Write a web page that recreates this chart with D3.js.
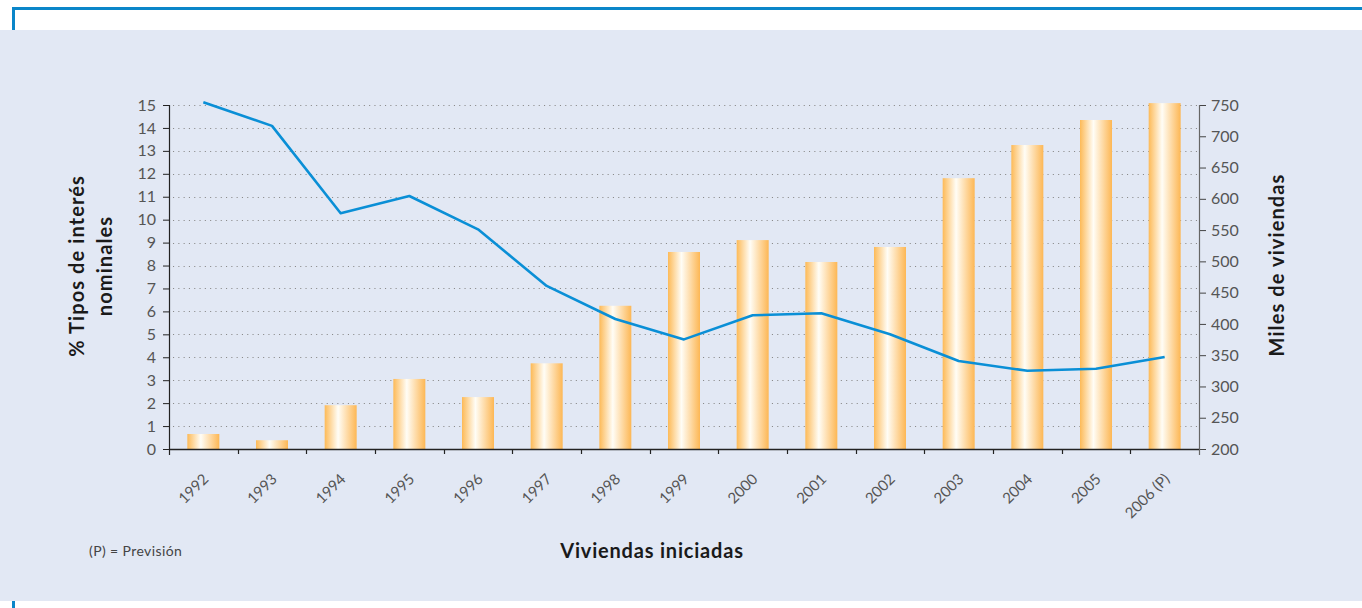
<!DOCTYPE html>
<html>
<head>
<meta charset="utf-8">
<script src="https://cdn.jsdelivr.net/npm/d3@7/dist/d3.min.js"></script>
<style>
  html, body { margin: 0; padding: 0; background: #ffffff; }
  svg { display: block; }
  text { font-family: Lato, "Open Sans", sans-serif; }
</style>
</head>
<body>
<svg id="chart" width="1362" height="608"></svg>
<script>
// ---- data ----
const years = ["1992","1993","1994","1995","1996","1997","1998","1999","2000","2001","2002","2003","2004","2005","2006 (P)"];
const viviendas = [224, 214, 270, 312, 283, 337, 429, 515, 534, 499, 523, 633, 686, 726, 753];
const tipos = [15.12, 14.09, 10.28, 11.03, 9.58, 7.11, 5.67, 4.78, 5.83, 5.92, 5.0, 3.84, 3.41, 3.50, 4.01];
const leftTicks = [0,1,2,3,4,5,6,7,8,9,10,11,12,13,14,15];
const rightTicks = [200,250,300,350,400,450,500,550,600,650,700,750];
const leftTitle = ["% Tipos de interés", "nominales"];
const rightTitle = "Miles de viviendas";
const xTitle = "Viviendas iniciadas";
const footnote = "(P) = Previsión";

// ---- layout ----
const W = 1362, H = 608;
const X0 = 169, X1 = 1199, Y0 = 449, Y1 = 105;

const svg = d3.select("#chart");

// frame
svg.append("rect").attr("x", 0).attr("y", 30).attr("width", W).attr("height", 571).attr("fill", "#E2E8F4");
svg.append("line").attr("x1", 12).attr("x2", W).attr("y1", 8.5).attr("y2", 8.5)
   .attr("stroke", "#0A86C9").attr("stroke-width", 3);
svg.append("line").attr("x1", 13.5).attr("x2", 13.5).attr("y1", 7).attr("y2", 30)
   .attr("stroke", "#0A86C9").attr("stroke-width", 3);
svg.append("line").attr("x1", 13.5).attr("x2", 13.5).attr("y1", 601).attr("y2", H)
   .attr("stroke", "#0A86C9").attr("stroke-width", 3);

// gradient
const defs = svg.append("defs");
const grad = defs.append("linearGradient").attr("id", "barGrad").attr("x1", "0%").attr("x2", "100%").attr("y1", "0%").attr("y2", "0%");
grad.append("stop").attr("offset", "0%").attr("stop-color", "#FDBA57");
grad.append("stop").attr("offset", "42%").attr("stop-color", "#FFFDF6");
grad.append("stop").attr("offset", "100%").attr("stop-color", "#FDB754");

// scales
const pi = 0.534;
const x = d3.scaleBand().domain(years).range([X0, X1]).paddingInner(pi).paddingOuter(pi / 2);
const xb = d3.scaleBand().domain(years).range([X0, X1]).padding(0);
const yL = d3.scaleLinear().domain([0, 15]).range([Y0, Y1]);
const yR = d3.scaleLinear().domain([200, 750]).range([Y0, Y1]);

// gridlines
svg.append("g").selectAll("line").data(leftTicks.filter(d => d > 0)).join("line")
  .attr("x1", X0 + 4).attr("x2", X1)
  .attr("y1", d => Math.round(yL(d)) + 0.5).attr("y2", d => Math.round(yL(d)) + 0.5)
  .attr("stroke", "#8a8a8a").attr("stroke-width", 1.1).attr("stroke-dasharray", "1.1,4.2");

// bars
svg.append("g").selectAll("rect").data(years).join("rect")
  .attr("x", d => x(d))
  .attr("width", x.bandwidth())
  .attr("y", (d, i) => yR(viviendas[i]))
  .attr("height", (d, i) => Y0 - yR(viviendas[i]))
  .attr("fill", "url(#barGrad)");

// left axis
const gL = svg.append("g").attr("transform", `translate(${X0},0)`)
  .call(d3.axisLeft(yL).tickValues(leftTicks).tickSize(6).tickSizeOuter(0).tickPadding(7));
gL.select(".domain").remove();
gL.selectAll(".tick line").attr("stroke", "#222");
gL.selectAll(".tick text").attr("fill", "#555").attr("font-size", 16).attr("font-family", "Lato");
svg.append("line").attr("x1", X0 + 0.5).attr("x2", X0 + 0.5).attr("y1", Y1).attr("y2", Y0 + 6)
  .attr("stroke", "#222").attr("stroke-width", 1.2);

// right axis
const gR = svg.append("g").attr("transform", `translate(${X1},0)`)
  .call(d3.axisRight(yR).tickValues(rightTicks).tickSize(7).tickSizeOuter(0).tickPadding(5));
gR.select(".domain").remove();
gR.selectAll(".tick line").attr("stroke", "#444");
gR.selectAll(".tick text").attr("fill", "#555").attr("font-size", 16).attr("font-family", "Lato");
svg.append("line").attr("x1", X1 + 0.5).attr("x2", X1 + 0.5).attr("y1", Y1).attr("y2", Y0 + 6)
  .attr("stroke", "#666").attr("stroke-width", 1.2);

// x axis
svg.append("line").attr("x1", X0).attr("x2", X1).attr("y1", Y0 + 0.5).attr("y2", Y0 + 0.5)
  .attr("stroke", "#222").attr("stroke-width", 1.3);
const bounds = years.map(d => xb(d)).concat([X1]);
svg.append("g").selectAll("line").data(bounds.slice(1, -1)).join("line")
  .attr("x1", d => Math.round(d) + 0.5).attr("x2", d => Math.round(d) + 0.5)
  .attr("y1", Y0).attr("y2", Y0 + 5).attr("stroke", "#222").attr("stroke-width", 1.2);

// x labels
svg.append("g").selectAll("text").data(years).join("text")
  .attr("transform", d => `translate(${x(d) + x.bandwidth() / 2 + 6},${Y0 + 31}) rotate(-45)`)
  .attr("text-anchor", "end")
  .attr("fill", "#555").attr("font-size", 15)
  .text(d => d);

// line
const line = d3.line()
  .x((d, i) => x(years[i]) + x.bandwidth() / 2)
  .y(d => yL(d));
svg.append("path").datum(tipos).attr("d", line)
  .attr("fill", "none").attr("stroke", "#0A8FD6").attr("stroke-width", 2.6).attr("stroke-linejoin", "round");

// titles
const lt = svg.append("text").attr("transform", "translate(84,266) rotate(-90)")
  .attr("text-anchor", "middle").attr("font-weight", "bold").attr("font-size", 20)
  .attr("letter-spacing", 1.1).attr("fill", "#1a1a1a");
lt.append("tspan").attr("x", 0).attr("y", 0).text(leftTitle[0]);
lt.append("tspan").attr("x", 0).attr("y", 28).text(leftTitle[1]);

svg.append("text").attr("transform", "translate(1284,265) rotate(-90)")
  .attr("text-anchor", "middle").attr("font-weight", "bold").attr("font-size", 20)
  .attr("letter-spacing", 1.1).attr("fill", "#1a1a1a")
  .text(rightTitle);

svg.append("text").attr("x", 652).attr("y", 558).attr("text-anchor", "middle")
  .attr("font-weight", "bold").attr("font-size", 20).attr("letter-spacing", 0.8)
  .attr("fill", "#1a1a1a").text(xTitle);

svg.append("text").attr("x", 89).attr("y", 556).attr("font-size", 14).attr("letter-spacing", 0.4)
  .attr("fill", "#444").text(footnote);
</script>
</body>
</html>
